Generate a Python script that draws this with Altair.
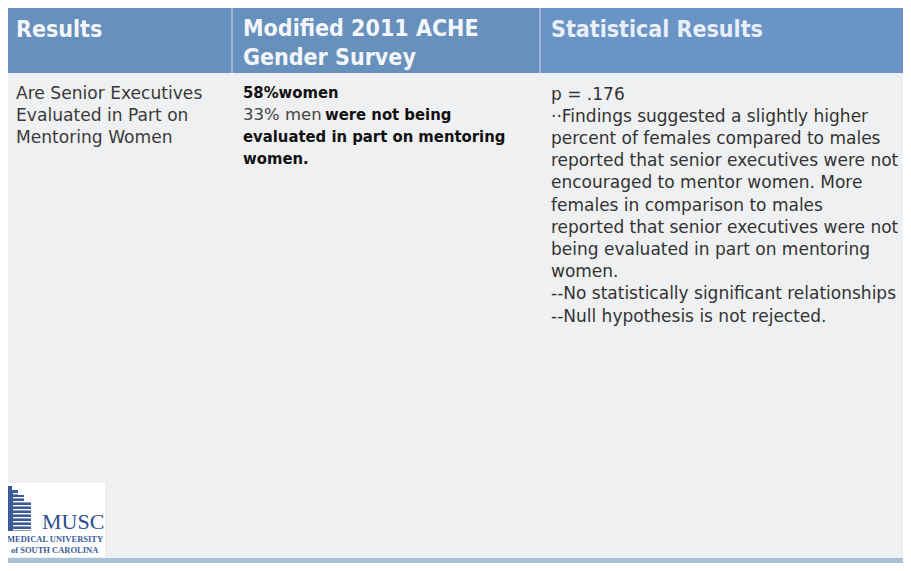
import altair as alt
import pandas as pd

# ---------------- content ----------------
header_col1 = ["Results"]
header_col2 = ["Modified 2011 ACHE", "Gender Survey"]
header_col3 = ["Statistical Results"]

col1_lines = ["Are Senior Executives", "Evaluated in Part on", "Mentoring Women"]

col2_bold_lines = ["58%women", "", "evaluated in part on mentoring", "women."]
col2_mixed_regular = "33% men"
col2_mixed_bold = "were not being"

col3_lines = [
    "p = .176",
    "\u00b7\u00b7Findings suggested a slightly higher",
    "percent of females compared to males",
    "reported that senior executives were not",
    "encouraged to mentor women.  More",
    "females in comparison to males",
    "reported that senior executives were not",
    "being evaluated in part on mentoring",
    "women.",
    "--No statistically significant relationships",
    "--Null hypothesis is not rejected.",
]

logo_name = "MUSC"
logo_sub = ["MEDICAL UNIVERSITY", "of SOUTH CAROLINA"]

# ---------------- layout (reference pixel space) ----------------
W, H = 895, 555
OX, OY = 8, 8
col_edges = [6, 232, 540, 911]
header_top, header_bot = 8, 73
body_bot = 558
text_x = [16, 243, 551]
line0, line_h = 98.5, 22.2

X = alt.Scale(domain=[OX, OX + W], nice=False, zero=False)
Y = alt.Scale(domain=[OY, OY + H], nice=False, zero=False, reverse=True)

rects = pd.DataFrame([
    dict(x0=col_edges[0], x1=col_edges[3], y0=header_bot, y1=body_bot, fill="#eff0f2"),
    dict(x0=col_edges[0], x1=col_edges[2], y0=header_top, y1=header_bot, fill="#6890bc"),
    dict(x0=col_edges[2], x1=col_edges[3], y0=header_top, y1=header_bot, fill="#6b94c6"),
    dict(x0=0, x1=911, y0=body_bot, y1=571, fill="#a9c1d9"),
    dict(x0=2, x1=105, y0=483, y1=557, fill="#ffffff"),
])

bld = []
for a, b, top in [(6, 12, 486), (12, 18, 490), (18, 24, 495), (24, 31, 502)]:
    bld.append(dict(x0=a, x1=b, y0=top, y1=531, fill="#3b5b98"))
for yy in range(493, 530, 4):
    bld.append(dict(x0=13, x1=31, y0=yy, y1=yy + 1.4, fill="#ffffff"))
bld = pd.DataFrame(bld)

seps = pd.DataFrame(dict(x=[col_edges[1], col_edges[2]], y0=[header_top] * 2, y1=[header_bot] * 2))


def rect_layer(df):
    return alt.Chart(df).mark_rect().encode(
        x=alt.X("x0:Q", scale=X, axis=None),
        x2="x1:Q",
        y=alt.Y("y0:Q", scale=Y, axis=None),
        y2="y1:Q",
        color=alt.Color("fill:N", scale=None),
    )


def text_layer(df, font, size, weight, color):
    return alt.Chart(df).mark_text(
        align="left", baseline="alphabetic", font=font, fontSize=size,
        fontWeight=weight, color=color,
    ).encode(
        x=alt.X("x:Q", scale=X, axis=None),
        y=alt.Y("y:Q", scale=Y, axis=None),
        text="t:N",
    )


header_df = pd.DataFrame(
    [dict(x=text_x[0], y=36.5, t=header_col1[0])]
    + [dict(x=text_x[1], y=35.5 + 29.5 * i, t=s) for i, s in enumerate(header_col2)]
)
header3_df = pd.DataFrame([dict(x=text_x[2], y=37, t=header_col3[0])])

c1 = pd.DataFrame([dict(x=text_x[0], y=line0 + line_h * i, t=s) for i, s in enumerate(col1_lines)])
c3 = pd.DataFrame([dict(x=text_x[2], y=line0 + 1 + line_h * i, t=s) for i, s in enumerate(col3_lines)])
c2b = pd.DataFrame(
    [dict(x=text_x[1], y=line0 - 1 + line_h * i, t=s) for i, s in enumerate(col2_bold_lines) if s]
    + [dict(x=325, y=line0 - 1 + line_h, t=col2_mixed_bold)]
)
c2r = pd.DataFrame([dict(x=text_x[1], y=line0 - 1 + line_h, t=col2_mixed_regular)])

logo_big = pd.DataFrame([dict(x=42, y=529, t=logo_name)])
logo_small = pd.DataFrame([dict(x=7, y=542, t=logo_sub[0]), dict(x=11, y=553, t=logo_sub[1])])

HFONT = "DejaVu Sans Condensed"
BFONT = "DejaVu Sans"

chart = alt.layer(
    rect_layer(rects),
    alt.Chart(seps).mark_rule(color="#d3deea", strokeWidth=1).encode(
        x=alt.X("x:Q", scale=X, axis=None),
        y=alt.Y("y0:Q", scale=Y, axis=None),
        y2="y1:Q",
    ),
    rect_layer(bld),
    text_layer(header_df, HFONT, 23, "bold", "#f3f6fa"),
    text_layer(header3_df, HFONT, 23, "bold", "#e9eff7"),
    text_layer(c1, BFONT, 17.1, "normal", "#3a3a3a"),
    text_layer(c3, BFONT, 17, "normal", "#333333"),
    text_layer(c2r, BFONT, 16.5, "normal", "#444444"),
    text_layer(c2b, HFONT, 16.5, "bold", "#111111"),
    text_layer(logo_big, "Liberation Serif", 22, "normal", "#2e4f8f"),
    text_layer(logo_small, "Liberation Serif", 8.5, "bold", "#3b5b98"),
).properties(
    width=W, height=H, padding=0, autosize=alt.AutoSizeParams(type="none"),
    background="#ffffff",
).configure_view(stroke=None)

chart.save("out.html", embed_options={"renderer": "svg", "actions": False})
